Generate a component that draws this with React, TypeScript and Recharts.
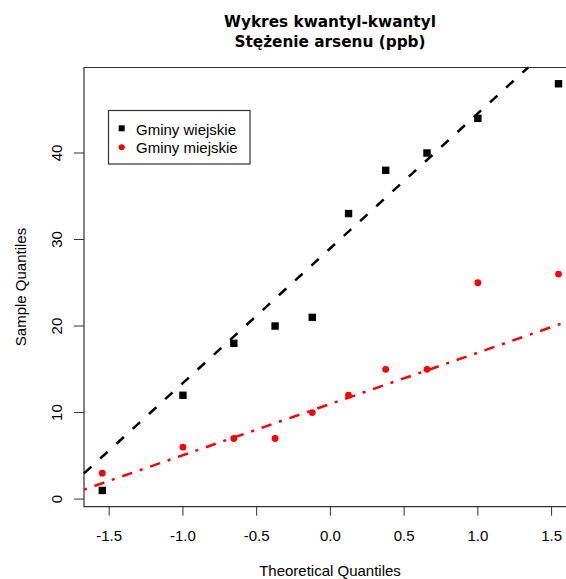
import React from 'react';
import { ScatterChart, Scatter, XAxis, YAxis, ReferenceLine, ReferenceArea } from 'recharts';

// Theoretical normal quantiles (n = 10)
const theoretical = [-1.547, -1.0, -0.655, -0.375, -0.123, 0.123, 0.375, 0.655, 1.0, 1.547];
// Sample values
const ruralValues = [1, 12, 18, 20, 21, 33, 38, 40, 44, 48];
const urbanValues = [3, 6, 7, 7, 10, 12, 15, 15, 25, 26];
// Q-Q reference lines (endpoints)
const ruralLine = [{ x: -1.671, y: 2.97 }, { x: 1.341, y: 49.88 }];
const urbanLine = [{ x: -1.671, y: 1.1 }, { x: 1.671, y: 20.9 }];
// Axes
const xDomain = [-1.671, 1.671];
const yDomain = [-0.88, 49.88];
const xTicks = [-1.5, -1.0, -0.5, 0, 0.5, 1.0, 1.5];
const yTicks = [0, 10, 20, 30, 40];
const titleLines = ['Wykres kwantyl-kwantyl', 'Stężenie arsenu (ppb)'];
const legendLabels = ['Gminy wiejskie', 'Gminy miejskie'];

const ruralData = theoretical.map((x, i) => ({ x, y: ruralValues[i] }));
const urbanData = theoretical.map((x, i) => ({ x, y: urbanValues[i] }));

const SANS = '"Liberation Sans", Arial, sans-serif';
const AXIS_COLOR = '#333';

const SquareShape = (props: any) => {
  const { cx, cy } = props;
  return <rect x={cx - 3.7} y={cy - 3.7} width={7.4} height={7.4} fill="#000" />;
};
const DotShape = (props: any) => {
  const { cx, cy } = props;
  return <circle cx={cx} cy={cy} r={3.4} fill="#ff0000" />;
};

const XTick = (props: any) => {
  const { x, payload } = props;
  return (
    <text x={x} y={541} textAnchor="middle" fontFamily={SANS} fontSize={15} fill="#000">
      {Number(payload.value).toFixed(1)}
    </text>
  );
};
const YTick = (props: any) => {
  const { y, payload } = props;
  return (
    <text
      x={62}
      y={y}
      transform={`rotate(-90, 62, ${y})`}
      textAnchor="middle"
      fontFamily={SANS}
      fontSize={15}
      fill="#000"
    >
      {payload.value}
    </text>
  );
};

export default function App() {
  return (
    <div
      style={{
        position: 'absolute',
        left: 0,
        top: 0,
        width: 566,
        height: 579,
        overflow: 'hidden',
        background: '#fff',
      }}
    >
      <ScatterChart
        width={620}
        height={579}
        margin={{ top: 67.5, right: 43.2, bottom: 0, left: 0 }}
      >
        <XAxis
          type="number"
          dataKey="x"
          domain={xDomain}
          allowDataOverflow
          ticks={xTicks}
          tick={<XTick />}
          tickSize={9}
          tickLine={{ stroke: AXIS_COLOR }}
          axisLine={false}
          height={72.3}
          interval={0}
        />
        <YAxis
          type="number"
          dataKey="y"
          domain={yDomain}
          allowDataOverflow
          ticks={yTicks}
          tick={<YTick />}
          tickSize={10}
          tickLine={{ stroke: AXIS_COLOR }}
          axisLine={false}
          width={84}
          interval={0}
        />
        <ReferenceArea
          x1={xDomain[0]}
          x2={xDomain[1]}
          y1={yDomain[0]}
          y2={yDomain[1]}
          fill="none"
          fillOpacity={0}
          stroke={AXIS_COLOR}
          strokeWidth={1.2}
        />
        <Scatter data={ruralData} shape={<SquareShape />} isAnimationActive={false} />
        <Scatter data={urbanData} shape={<DotShape />} isAnimationActive={false} />
        <ReferenceLine
          segment={ruralLine}
          stroke="#000"
          strokeWidth={2.5}
          strokeDasharray="10 12"
        />
        <ReferenceLine
          segment={urbanLine}
          stroke="#ff0000"
          strokeWidth={2.5}
          strokeDasharray="3 8 10.5 8"
        />
      </ScatterChart>
      <svg
        width={566}
        height={579}
        style={{ position: 'absolute', left: 0, top: 0, pointerEvents: 'none' }}
      >
        <text
          x={330}
          y={26.7}
          textAnchor="middle"
          fontFamily='"DejaVu Sans", Verdana, sans-serif'
          fontWeight="bold"
          fontSize={15.3}
          fill="#000"
        >
          {titleLines[0]}
        </text>
        <text
          x={330}
          y={46.7}
          textAnchor="middle"
          fontFamily='"DejaVu Sans", Verdana, sans-serif'
          fontWeight="bold"
          fontSize={15.3}
          fill="#000"
        >
          {titleLines[1]}
        </text>
        <text x={330} y={576} textAnchor="middle" fontFamily={SANS} fontSize={15} fill="#000">
          Theoretical Quantiles
        </text>
        <text
          x={25.5}
          y={287}
          transform="rotate(-90, 25.5, 287)"
          textAnchor="middle"
          fontFamily={SANS}
          fontSize={15}
          fill="#000"
        >
          Sample Quantiles
        </text>
        <rect x={108.5} y={110.5} width={141.5} height={53.5} fill="#fff" stroke={AXIS_COLOR} strokeWidth={1.2} />
        <rect x={118.7} y={125.3} width={6} height={6} fill="#000" />
        <circle cx={121.7} cy={147.3} r={3} fill="#ff0000" />
        <text x={136} y={134.5} fontFamily={SANS} fontSize={15} fill="#000">
          {legendLabels[0]}
        </text>
        <text x={136} y={153.3} fontFamily={SANS} fontSize={15} fill="#000">
          {legendLabels[1]}
        </text>
      </svg>
    </div>
  );
}
